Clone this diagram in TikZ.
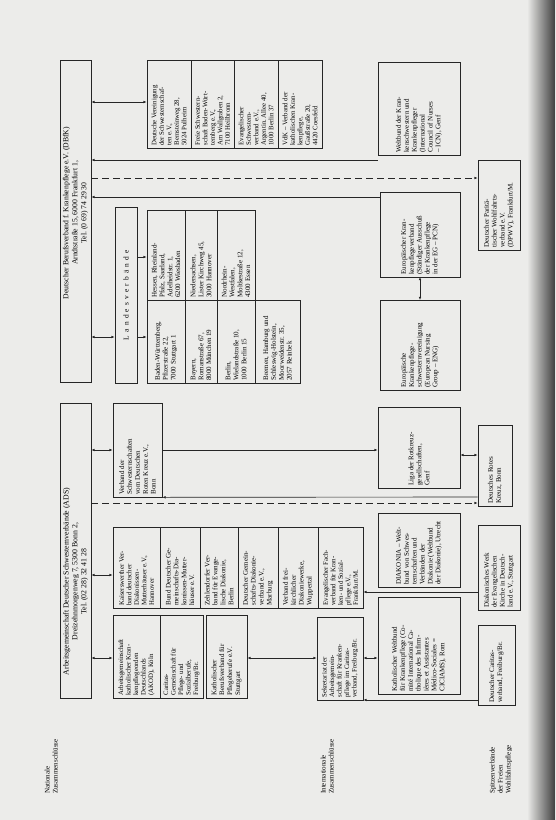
\documentclass[tikz,border=0pt]{standalone}
\usepackage{fontspec}
\setmainfont{Liberation Serif}
\usetikzlibrary{arrows.meta}
\definecolor{bg}{RGB}{236,236,234}
\tikzset{
 box/.style={draw=black!85, line width=0.65pt, inner sep=0pt},
 con/.style={draw=black!85, line width=0.65pt},
 arr/.style={con, -{Latex[length=3.2pt,width=2.6pt]}},
 darr/.style={con, {Latex[length=3.2pt,width=2.6pt]}-{Latex[length=3.2pt,width=2.6pt]}},
 dsh/.style={con, dash pattern=on 7pt off 4pt},
 lbl/.style={inner sep=0pt, anchor=south},
}
\newcommand\bx[7][]{\node[box,#1,minimum width={(#5-#3)*1pt},minimum height={(#6-#4)*1pt}] (#2) at ({(#3+#5)/2},{-(#4+#6)/2}) {\rotatebox{90}{\parbox{\dimexpr #6pt-#4pt-5pt\relax}{\fontsize{7}{7.9}\selectfont\raggedright #7}}};}
\newcommand\lb[3]{\node[lbl] (#1) at #2 {\rotatebox{90}{\fontsize{7}{8}\selectfont\begin{tabular}{@{}l@{}}#3\end{tabular}}};}
\newcommand\ls{\hspace{3.2pt}}
\newcommand\sm{\fontsize{6.8}{7.5}\selectfont}
\begin{document}
\begin{tikzpicture}[x=1pt,y=1pt]
\useasboundingbox (0,0) rectangle (555,-820);
\fill[bg] (0,0) rectangle (555,-820);
\shade[left color=bg, right color=black!75] (527,0) rectangle (555,-820);
% labels
\lb{lnat}{(52,-794)}{Nationale\\Zusammenschlüsse}
\lb{lint}{(328,-794)}{Internationale\\Zusammenschlüsse}
\lb{lspi}{(501,-794)}{Spitzenverbände\\der Freien\\Wohlfahrtspflege}
% headers
\node[box,minimum width=31pt,minimum height=322pt] (dbfk) at (75.5,-221) {\rotatebox{90}{\hspace*{16pt}\parbox{300pt}{\centering\fontsize{7.7}{8.9}\selectfont Deutscher Berufsverband f.\ Krankenpflege e.V. (DBfK)\\Arndtstraße 15, 6000 Frankfurt 1,\\Tel.\ (0 69) 74 29 30}}};
\node[box,minimum width=31pt,minimum height=295pt] (ads) at (75.5,-550.5) {\rotatebox{90}{\hspace*{-62pt}\parbox{280pt}{\centering\fontsize{7.8}{8.9}\selectfont Arbeitsgemeinschaft Deutscher Schwesternverbände (ADS)\\Dreizehnmorgenweg 7, 5300 Bonn 2,\\Tel.\ (02 28) 32 41 28}}};
% Landesverbaende
\bx{lvb}{115}{207}{137}{383}{\centering\fontsize{7.4}{8}\selectfont L\ls a\ls n\ls d\ls e\ls s\ls v\ls e\ls r\ls b\ls ä\ls n\ls d\ls e}
\bx{lv1}{147}{300}{185}{383}{Baden-Württemberg,\\Pfizerstraße 22,\\7000 Stuttgart 1}
\bx{lv2}{185}{300}{217}{383}{Bayern,\\Romanstraße 67,\\8000 München 19}
\bx{lv3}{217}{300}{255}{383}{Berlin,\\Wielandstraße 10,\\1000 Berlin 15}
\bx{lv4}{255}{300}{300}{383}{Bremen, Hamburg und\\Schleswig-Holstein,\\Moorweidenstr.\ 35,\\2057 Reinbek}
\bx{lv5}{147}{210}{185}{300}{Hessen, Rheinland-\\Pfalz, Saarland,\\Adelheidstr.\ 1,\\6200 Wiesbaden}
\bx{lv6}{185}{210}{217}{300}{Niedersachsen,\\Lister Kirchweg 45,\\3000 Hannover}
\bx{lv7}{217}{210}{255}{300}{Nordrhein-\\Westfalen,\\Moltkestraße 12,\\4300 Essen}
% other DBfK related
\bx{o1}{147}{60}{191}{148}{\sm Deutsche Vereinigung\\der Schwesternschaf-\\ten e.V.,\\Bernsteinweg 28,\\5024 Pulheim}
\bx{o2}{191}{60}{234}{148}{\sm Freie Schwestern-\\schaft Baden-Würt-\\temberg e.V.,\\Am Wallgraben 2,\\7100 Heilbronn}
\bx{o3}{234}{60}{278}{148}{\sm Evangelischer\\Schwestern-\\verband e.V.,\\Argentin.\ Allee 40,\\1000 Berlin 37}
\bx{o4}{278}{60}{322}{148}{\sm VdK -- Verband der\\katholischen Kran-\\kenpflege,\\Gaußstraße 20,\\4420 Coesfeld}
% ADS members: catholic
\bx{k1}{113}{615}{160}{698}{\sm Arbeitsgemeinschaft\\katholischer Kran-\\kenpflegeorden\\Deutschlands\\(AKOD), Köln}
\bx{k2}{160}{615}{203}{698}{\sm Caritas-\\Gemeinschaft für\\Pflege- und\\Sozialberufe,\\Freiburg/Br.}
\bx{k3}{206}{615}{247}{698}{Katholischer\\Berufsverband für\\Pflegeberufe e.V.\\Stuttgart}
% protestant
\bx{e1}{113}{527}{160}{608}{\sm Kaiserswerther Ver-\\band deutscher\\Diakonissen-\\Mutterhäuser e.V.,\\Hannover}
\bx{e2}{160}{527}{200}{608}{Bund Deutscher Ge-\\meinschafts-Dia-\\konissen-Mutter-\\häuser e.V.}
\bx{e3}{200}{527}{238}{608}{Zehlendorfer Ver-\\band für Evange-\\lische Diakonie,\\Berlin}
\bx{e4}{238}{527}{278}{608}{Deutscher Gemein-\\schafts-Diakonie-\\verband e.V.,\\Marburg}
\bx{e5}{278}{527}{318}{608}{Verband frei-\\kirchlicher\\Diakoniewerke,\\Wuppertal}
\bx{e6}{318}{527}{363}{608}{\sm Evangelischer Fach-\\verband für Kran-\\ken- und Sozial-\\pflege e.V.,\\Frankfurt/M.}
% DRK
\bx{drk}{113}{403}{162}{497}{Verband der\\Schwesternschaften\\vom Deutschen\\Roten Kreuz e.V.,\\Bonn}
% international
\bx{isek}{317}{617}{363}{700}{\sm Sekretariat der\\Arbeitsgemein-\\schaft für Kranken-\\pflege im Caritas-\\verband, Freiburg/Br.}
\bx{cic}{378}{597}{460}{694}{Katholischer Weltbund\\für Krankenpflege (Co-\\mité International Ca-\\tholique des Infirm-\\ières et Assistantes\\Médico-Sociales =\\CICIAMS), Rom}
\bx{dia}{378}{513}{460}{587}{DIAKONIA -- Welt-\\bund von Schwes-\\ternschaften und\\Verbänden der\\Diakonie (Weltbund\\der Diakonie), Utrecht}
\bx{liga}{378}{407}{460}{488}{Liga der Rotkreuz-\\gesellschaften,\\Genf}
\bx{eu1}{380}{300}{460}{390}{Europäische\\Krankenpflege-\\schwesternvereinigung\\(European Nursing\\Group -- ENG)}
\bx{eu2}{380}{192}{460}{277}{Europäischer Kran-\\kenpflegeverband\\(Ständiger Ausschuß\\der Krankenpflege\\in der EG -- PCN)}
\bx{icn}{378}{62}{460}{155}{Weltbund der Kran-\\kenschwestern und\\Krankenpfleger\\(International\\Council of Nurses\\-- ICN), Genf}
% Spitzenverbaende
\bx{car}{478}{625}{515}{705}{Deutscher Caritas-\\verband, Freiburg/Br.}
\bx{dw}{478}{525}{520}{610}{Diakonisches Werk\\der Evangelischen\\Kirche in Deutsch-\\land e.V., Stuttgart}
\bx{drks}{478}{425}{512}{506}{Deutsches Rotes\\Kreuz, Bonn}
\bx{dpwv}{478}{160}{520}{250}{Deutscher Paritä-\\tischer Wohlfahrts-\\verband e.V.\\(DPWV), Frankfurt/M.}
% connectors
\draw[darr] (ads.east |- 0,-658) -- (k1.west |- 0,-658);
\draw[darr] (ads.east |- 0,-575) -- (e1.west |- 0,-575);
\draw[darr] (ads.east |- 0,-450) -- (drk.west |- 0,-450);
\draw[darr] (dbfk.east |- 0,-337) -- (lvb.west |- 0,-337);
\draw[darr] (dbfk.east |- 0,-102) -- (o1.west |- 0,-102);
\draw[arr] (lvb.east |- 0,-337) -- (lv1.west |- 0,-337);
\draw[arr] (lvb.east |- 0,-257) -- (lv5.west |- 0,-257);
\draw[darr] (k3.east |- 0,-658) -- (isek.west |- 0,-658);
\draw[darr] (isek.east |- 0,-658) -- (cic.west |- 0,-658);
\draw[darr] (eu1.north |- 0,-300) -- (eu2.south |- 0,-277);
\draw[arr] (icn.west |- 0,-160) -- (dbfk.east |- 0,-160);
\draw[dsh,-{Latex[length=3.2pt,width=2.6pt]}] (dbfk.east |- 0,-178) -- (dpwv.west |- 0,-178);
\draw[arr] (eu2.west |- 0,-197) -- (dbfk.east |- 0,-197);
\draw[dsh,-{Latex[length=3.2pt,width=2.6pt]}] (ads.east |- 0,-503) -- (drks.west |- 0,-503);
\draw[arr] (drks.west |- 0,-497) -- (drk.south east);
\draw[darr] (liga.east |- 0,-455) -- (drks.west |- 0,-455);
\draw[arr] (drk.east |- 0,-450) -- (liga.west |- 0,-450);
\draw[arr] (car.west |- 0,-700) -- (isek.east |- 0,-700);
\draw[arr] (dw.west |- 0,-592) -- (e6.east |- 0,-592);
\end{tikzpicture}
\end{document}
